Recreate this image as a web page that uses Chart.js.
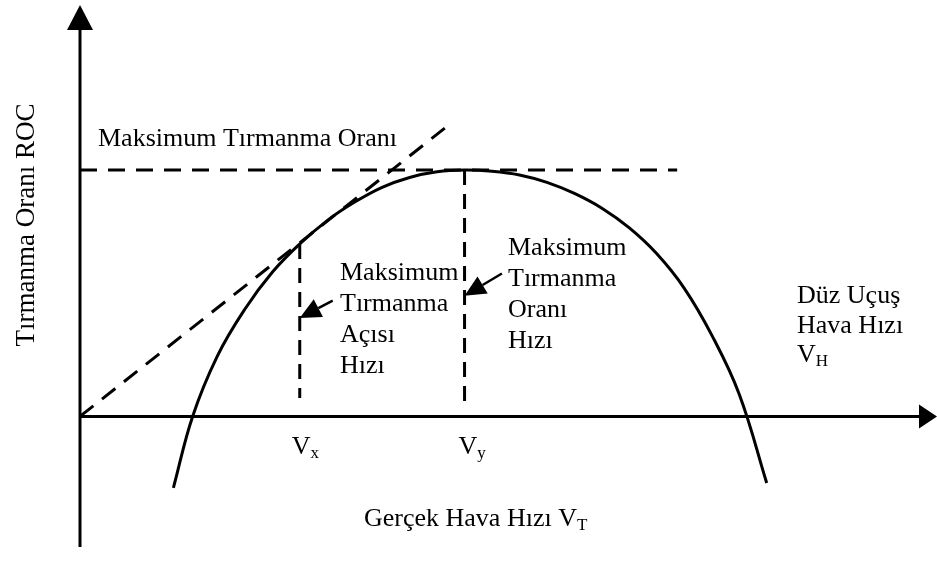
<!DOCTYPE html>
<html>
<head>
<meta charset="utf-8">
<script src="https://cdn.jsdelivr.net/npm/chart.js@4.4.1/dist/chart.umd.min.js"></script>
<style>
  html, body { margin: 0; padding: 0; background: #fff; }
  #wrap { width: 937px; height: 563px; }
</style>
</head>
<body>
<div id="wrap"><canvas id="rocChart" width="937" height="563"></canvas></div>
<script>
// airspeed (x) and rate of climb (y)
var curveSpeed = [17, 20.5, 25, 30, 35, 40, 45, 50, 55, 60, 65, 70, 75, 80, 85, 90, 95, 100, 105, 110, 115, 120, 125];
var curveRoc   = [-2.9, 0, 2.45, 4.35, 5.85, 7.0, 7.95, 8.7, 9.3, 9.7, 9.93, 10, 9.95, 9.8, 9.5, 9.05, 8.45, 7.65, 6.6, 5.2, 3.3, 0.9, -2.7];

var vx = 40;        // best angle of climb speed
var vy = 70;        // best rate of climb speed
var rocMax = 10;

var tangentSpeed = [0, 66.4];
var tangentRoc   = [0, 11.7];
var maxLineSpeed = [0, 108.7];
var vxLineRoc = [7.0, 0.75];
var vyLineRoc = [10, 0.4];

var axisMaxSpeed = 156;
var axisMinRoc = -5.3, axisMaxRoc = 16.7;

function pts(xs, ys) {
    return xs.map(function (x, i) { return { x: x, y: ys[i] }; });
}

var FONT = '"Liberation Serif", "Times New Roman", serif';

// axes with arrow heads plus all the text of the figure
var figurePlugin = {
    id: 'figure',
    afterDraw: function (chart) {
        var c = chart.ctx;
        var xs = chart.scales.x, ys = chart.scales.y;
        var area = chart.chartArea;
        var x0 = xs.getPixelForValue(0), y0 = ys.getPixelForValue(0);

        c.save();
        c.strokeStyle = '#000';
        c.fillStyle = '#000';
        c.lineWidth = 3;
        c.setLineDash([]);

        // y axis
        c.beginPath();
        c.moveTo(x0, area.bottom);
        c.lineTo(x0, area.top + 20);
        c.stroke();
        c.beginPath();
        c.moveTo(x0, area.top);
        c.lineTo(x0 - 13, area.top + 25);
        c.lineTo(x0 + 13, area.top + 25);
        c.closePath();
        c.fill();

        // x axis
        c.beginPath();
        c.moveTo(x0, y0);
        c.lineTo(area.right - 15, y0);
        c.stroke();
        c.beginPath();
        c.moveTo(area.right, y0);
        c.lineTo(area.right - 18, y0 - 12);
        c.lineTo(area.right - 18, y0 + 12);
        c.closePath();
        c.fill();

        // pointer arrows
        function arrow(fromX, fromY, toX, toY) {
            var ax = xs.getPixelForValue(fromX), ay = ys.getPixelForValue(fromY);
            var bx = xs.getPixelForValue(toX), by = ys.getPixelForValue(toY);
            var ang = Math.atan2(by - ay, bx - ax);
            var len = 21, half = 10;
            var baseX = bx - Math.cos(ang) * len, baseY = by - Math.sin(ang) * len;
            c.lineWidth = 2.5;
            c.beginPath();
            c.moveTo(ax, ay);
            c.lineTo(baseX, baseY);
            c.stroke();
            c.beginPath();
            c.moveTo(bx, by);
            c.lineTo(baseX - Math.sin(ang) * half, baseY + Math.cos(ang) * half);
            c.lineTo(baseX + Math.sin(ang) * half, baseY - Math.cos(ang) * half);
            c.closePath();
            c.fill();
        }
        arrow(46.0, 4.7, vx, 4.0);
        arrow(76.8, 5.8, vy, 4.9);

        // text
        c.textAlign = 'left';
        c.textBaseline = 'alphabetic';
        c.font = '26px ' + FONT;

        function lines(list, px, py, step) {
            list.forEach(function (t, i) { c.fillText(t, px, py + i * step); });
        }
        function sub(main, small, px, py) {
            c.font = '26px ' + FONT;
            c.fillText(main, px, py);
            var w = c.measureText(main).width;
            c.font = '17px ' + FONT;
            c.fillText(small, px + w, py + 4);
            c.font = '26px ' + FONT;
        }

        c.fillText('Maksimum Tırmanma Oranı', 98, 146);
        lines(['Maksimum', 'Tırmanma', 'Açısı', 'Hızı'], 340, 280, 31);
        lines(['Maksimum', 'Tırmanma', 'Oranı', 'Hızı'], 508, 255, 31);
        lines(['Düz Uçuş', 'Hava Hızı'], 797, 303, 30);
        sub('V', 'H', 797, 362);

        sub('V', 'x', xs.getPixelForValue(vx) - 8, 454);
        sub('V', 'y', xs.getPixelForValue(vy) - 6, 454);
        sub('Gerçek Hava Hızı V', 'T', 364, 526);

        // rotated y axis title
        c.save();
        c.translate(34, 225);
        c.rotate(-Math.PI / 2);
        c.textAlign = 'center';
        c.font = '27px ' + FONT;
        c.fillText('Tırmanma Oranı ROC', 0, 0);
        c.restore();

        c.restore();
    }
};

var dashed = {
    borderColor: '#000',
    borderWidth: 3,
    borderDash: [17, 11],
    pointRadius: 0,
    fill: false,
    tension: 0
};

var ctx = document.getElementById('rocChart').getContext('2d');
var rocChart = new Chart(ctx, {
    type: 'scatter',
    data: {
        datasets: [
            {
                label: 'ROC',
                data: pts(curveSpeed, curveRoc),
                showLine: true,
                borderColor: '#000',
                borderWidth: 3,
                pointRadius: 0,
                tension: 0.4,
                fill: false
            },
            Object.assign({ label: 'tangent', data: pts(tangentSpeed, tangentRoc), showLine: true }, dashed),
            Object.assign({ label: 'max', data: pts(maxLineSpeed, [rocMax, rocMax]), showLine: true }, dashed),
            Object.assign({ label: 'vx', data: pts([vx, vx], vxLineRoc), showLine: true }, dashed, { borderDash: [15, 9] }),
            Object.assign({ label: 'vy', data: pts([vy, vy], vyLineRoc), showLine: true }, dashed, { borderDash: [15, 9] })
        ]
    },
    options: {
        responsive: false,
        animation: false,
        devicePixelRatio: 1,
        layout: { padding: { left: 80, right: 0, top: 5, bottom: 16 } },
        plugins: {
            legend: { display: false },
            tooltip: { enabled: false }
        },
        scales: {
            x: { type: 'linear', min: 0, max: axisMaxSpeed, display: false },
            y: { type: 'linear', min: axisMinRoc, max: axisMaxRoc, display: false }
        }
    },
    plugins: [figurePlugin]
});
</script>
</body>
</html>
